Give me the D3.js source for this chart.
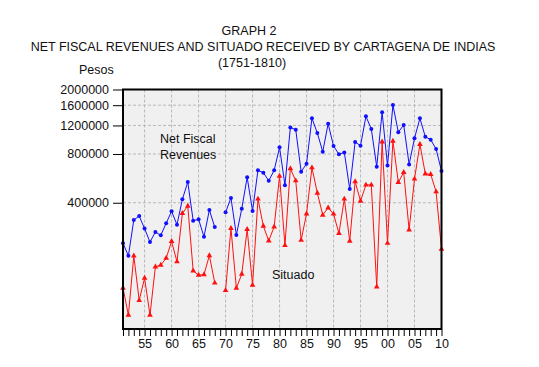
<!DOCTYPE html>
<html>
<head>
<meta charset="utf-8">
<script src="https://cdn.jsdelivr.net/npm/d3@7"></script>
<style>
  body { margin: 0; background: #fff; }
  text { font-family: "Liberation Sans", Arial, sans-serif; fill: #111; }
</style>
</head>
<body>
<script>
// chart data (null = no data for 1769)
var years = d3.range(1751, 1811);

var revenues = [225000, 188000, 313000, 331000, 277000, 229000, 264000, 252000, 299000, 354000,
                293000, 420000, 537000, 310000, 316000, 247000, 361000, 283000, null, 349000,
                428000, 253000, 367000, 574000, 356000, 634000, 613000, 547000, 634000, 879000,
                513000, 1165000, 1130000, 622000, 696000, 1328000, 1078000, 826000, 1230000, 896000,
                796000, 818000, 486000, 948000, 900000, 1366000, 1140000, 668000, 1446000, 678000,
                1604000, 1090000, 1208000, 690000, 1000000, 1328000, 1022000, 980000, 858000, 628000];

var situado = [119000, 81000, 188000, 100000, 137000, 81000, 161000, 165000, 182000, 231000,
               173000, 344000, 382000, 152000, 143000, 144000, 189000, 128000, null, 115000,
               278000, 119000, 145000, 274000, 124000, 422000, 287000, 233000, 284000, 585000,
               218000, 650000, 547000, 235000, 342000, 658000, 459000, 336000, 372000, 341000,
               259000, 422000, 232000, 540000, 410000, 515000, 515000, 121000, 952000, 225000,
               962000, 535000, 616000, 272000, 561000, 918000, 604000, 599000, 468000, 207000];

var yTicks = [400000, 800000, 1200000, 1600000, 2000000];
var xLabelYears = [1755, 1760, 1765, 1770, 1775, 1780, 1785, 1790, 1795, 1800, 1805, 1810];
var titleLines = ["GRAPH 2", "NET FISCAL REVENUES AND SITUADO RECEIVED BY CARTAGENA DE INDIAS", "(1751-1810)"];

var w = 539, h = 367;
var pl = 123, pr = 441.5, pt = 89.5, pb = 329;

var svg = d3.select("body").append("svg")
            .attr("width", w)
            .attr("height", h);

var x = d3.scaleLinear().domain([1751, 1810]).range([pl, pr]);
var y = d3.scaleLog().domain([66500, 2000000]).range([pb, pt]);

// titles
svg.append("text").attr("x", 249).attr("y", 35).attr("text-anchor", "middle")
   .style("font-size", "12.5px").text(titleLines[0]);
svg.append("text").attr("x", 263).attr("y", 51).attr("text-anchor", "middle")
   .style("font-size", "12.5px").text(titleLines[1]);
svg.append("text").attr("x", 252).attr("y", 67).attr("text-anchor", "middle")
   .style("font-size", "12.5px").text(titleLines[2]);
svg.append("text").attr("x", 79).attr("y", 74).style("font-size", "12.5px").text("Pesos");

// plot background
svg.append("rect")
   .attr("x", pl).attr("y", pt)
   .attr("width", pr - pl).attr("height", pb - pt)
   .attr("fill", "#f0f0f0");

// dashed grid
svg.selectAll(".hgrid")
   .data(yTicks.slice(0, 4))
   .enter()
   .append("line")
   .attr("x1", pl).attr("x2", pr)
   .attr("y1", function(d) { return y(d); })
   .attr("y2", function(d) { return y(d); })
   .attr("stroke", "#b8b8b8").attr("stroke-dasharray", "3,2");

svg.selectAll(".vgrid")
   .data(xLabelYears.slice(0, 11))
   .enter()
   .append("line")
   .attr("x1", function(d) { return x(d); })
   .attr("x2", function(d) { return x(d); })
   .attr("y1", pt).attr("y2", pb)
   .attr("stroke", "#b8b8b8").attr("stroke-dasharray", "3,2");

// y axis
var yAxis = d3.axisLeft(y)
              .tickValues(yTicks)
              .tickFormat(d3.format("d"))
              .tickSize(9)
              .tickPadding(4);
var gy = svg.append("g").attr("transform", "translate(" + (pl - 1) + ",0)").call(yAxis);
gy.select(".domain").remove();
gy.selectAll("text").style("font-size", "12.5px").attr("fill", "#111");

// x axis: minor tick every year, labels every 5
var xAxis = d3.axisBottom(x)
              .tickValues(years)
              .tickSize(6)
              .tickFormat(function(d) {
                  return xLabelYears.indexOf(d) >= 0 ? d3.format("02d")(d % 100) : "";
              })
              .tickPadding(3);
var gx = svg.append("g").attr("transform", "translate(0," + (pb + 1) + ")").call(xAxis);
gx.select(".domain").remove();
gx.selectAll("text").style("font-size", "12.5px").attr("fill", "#111");

// lines
var line = d3.line()
             .defined(function(d) { return d[1] != null; })
             .x(function(d) { return x(d[0]); })
             .y(function(d) { return y(d[1]); });

var revPts = years.map(function(yr, i) { return [yr, revenues[i]]; });
var sitPts = years.map(function(yr, i) { return [yr, situado[i]]; });

svg.append("path").datum(sitPts).attr("d", line)
   .attr("fill", "none").attr("stroke", "#ff1010").attr("stroke-width", 1);
svg.append("path").datum(revPts).attr("d", line)
   .attr("fill", "none").attr("stroke", "#1010ff").attr("stroke-width", 1);

svg.selectAll(".tri")
   .data(sitPts.filter(function(d) { return d[1] != null; }))
   .enter()
   .append("path")
   .attr("d", d3.symbol().type(d3.symbolTriangle).size(14))
   .attr("transform", function(d) { return "translate(" + x(d[0]) + "," + y(d[1]) + ")"; })
   .attr("fill", "#ff1010");

svg.selectAll(".dot")
   .data(revPts.filter(function(d) { return d[1] != null; }))
   .enter()
   .append("circle")
   .attr("cx", function(d) { return x(d[0]); })
   .attr("cy", function(d) { return y(d[1]); })
   .attr("r", 2)
   .attr("fill", "#1010ff");

// frame
svg.append("rect")
   .attr("x", pl).attr("y", pt)
   .attr("width", pr - pl).attr("height", pb - pt)
   .attr("fill", "none").attr("stroke", "#000").attr("stroke-width", 2);

// series labels
svg.append("text").attr("x", 160).attr("y", 143).style("font-size", "12.5px").text("Net Fiscal");
svg.append("text").attr("x", 160).attr("y", 159).style("font-size", "12.5px").text("Revenues");
svg.append("text").attr("x", 272).attr("y", 279).style("font-size", "12.5px").text("Situado");
</script>
</body>
</html>
